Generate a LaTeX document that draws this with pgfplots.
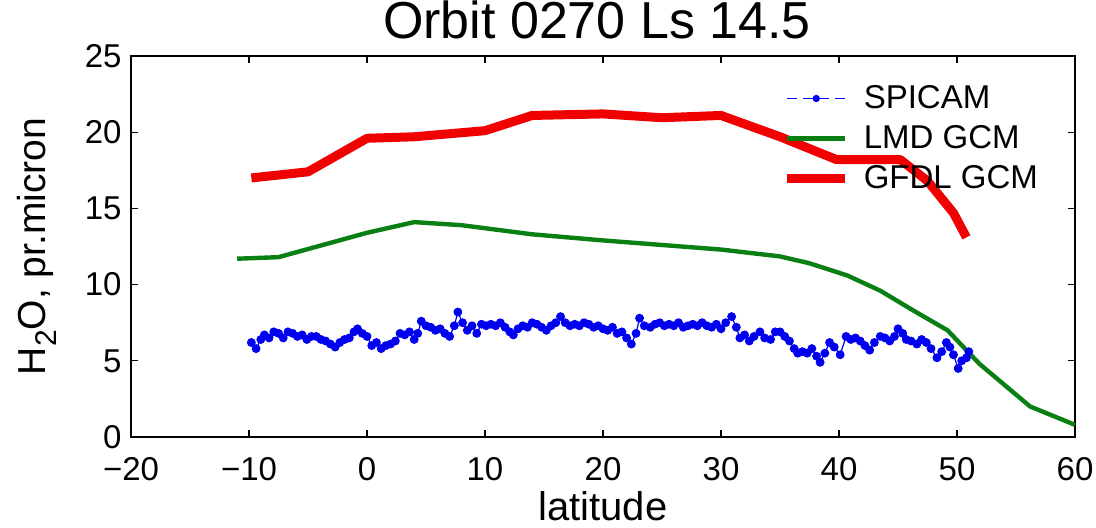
\documentclass[border=0pt]{standalone}
\usepackage{fontspec}
\setmainfont{Liberation Sans}
\usepackage{pgfplots}
\pgfplotsset{compat=1.18}
\definecolor{mgreen}{RGB}{10,128,20}
\definecolor{mred}{RGB}{240,0,0}
\definecolor{mblue}{RGB}{0,0,240}
\begin{document}
\begin{tikzpicture}
\useasboundingbox (-65.5pt,-45pt) rectangle (482.5pt,218.5pt);
\begin{axis}[
  scale only axis, width=472pt, height=190.5pt,
  xmin=-20, xmax=60, ymin=0, ymax=25,
  xtick={-20,-10,0,10,20,30,40,50,60},
  xticklabels={−20,−10,0,10,20,30,40,50,60},
  ytick={0,5,10,15,20,25},
  /pgf/number format/assume math mode=true,
  tick align=inside, major tick length=3.5pt,
  axis line style={line width=0.8pt},
  every tick/.style={black, line width=0.6pt},
  tick label style={font=\fontsize{16.5}{18}\selectfont},
  yticklabel style={anchor=east, inner sep=0pt, xshift=-4.5pt},
  xticklabel style={anchor=base, inner sep=0pt, yshift=-21.5pt},
  title={Orbit 0270 Ls 14.5},
  title style={font=\fontsize{26}{30}\selectfont, at={(axis description cs:0.5,1)}, anchor=base, yshift=3pt, xshift=-3pt, inner sep=0pt},
  xlabel={latitude},
  xlabel style={font=\fontsize{20}{24}\selectfont, at={(axis description cs:0.5,-0.218)}, anchor=base, inner sep=0pt},
  ylabel={H\raisebox{-0.3em}{\fontsize{15}{16}\selectfont 2}O, pr.micron},
  ylabel style={font=\fontsize{19.5}{24}\selectfont, at={(axis description cs:-0.0996,0.5)}, anchor=center, rotate=0},
  legend cell align=left,
  legend style={at={(rel axis cs:0.69,0.942)}, anchor=north west, draw=none, fill=none,
    inner sep=0pt, font=\fontsize{16.5}{18}\selectfont,
    nodes={text height=12pt, text depth=2pt, inner ysep=3pt, inner xsep=7pt}},
  legend image code/.code={\draw[#1] (0pt,0pt) -- (29pt,0pt);},
]
\addplot[mblue, line width=0.6pt, mark=*, mark size=1.9pt, mark options={solid, fill=mblue, draw=mblue},
  legend image code/.code={\draw[mblue, line width=0.5pt, dash pattern=on 5pt off 3pt] (0pt,0pt) -- (29pt,0pt); \fill[mblue] (14.5pt,0pt) circle (1.5pt);}]
coordinates {
(-9.8,6.2) (-9.4,5.8) (-9.0,6.4) (-8.7,6.7) (-8.3,6.5) (-7.9,6.9) (-7.5,6.8) (-7.1,6.5)
(-6.7,6.9) (-6.3,6.8) (-5.9,6.6) (-5.5,6.7) (-5.1,6.4) (-4.7,6.6) (-4.3,6.6) (-3.9,6.4)
(-3.5,6.3) (-3.1,6.1) (-2.7,5.9) (-2.3,6.2) (-1.9,6.4) (-1.5,6.5) (-1.1,6.9) (-0.8,7.1)
(-0.4,6.8) (0.0,6.6) (0.4,6.0) (0.8,6.2) (1.2,5.8) (1.6,6.0) (2.0,6.1) (2.4,6.3)
(2.8,6.8) (3.2,6.7) (3.6,6.9) (4.0,6.4) (4.3,6.8) (4.6,7.6) (5.0,7.3) (5.4,7.2)
(5.8,7.0) (6.2,7.1) (6.6,6.8) (7.0,6.6) (7.4,7.3) (7.7,8.2) (8.1,7.5) (8.5,7.0)
(8.9,7.3) (9.3,6.8) (9.7,7.4) (10.1,7.3) (10.5,7.4) (10.9,7.3) (11.3,7.5) (11.7,7.2)
(12.1,6.9) (12.4,6.7) (12.8,7.1) (13.2,7.3) (13.6,7.2) (14.0,7.5) (14.4,7.4) (14.8,7.2)
(15.2,7.0) (15.6,7.3) (16.0,7.5) (16.4,7.9) (16.8,7.5) (17.2,7.3) (17.6,7.4) (18.0,7.3)
(18.4,7.5) (18.8,7.4) (19.2,7.2) (19.6,7.3) (20.0,7.1) (20.4,7.0) (20.8,7.2) (21.2,6.8)
(21.6,6.9) (22.0,6.5) (22.4,6.1) (22.8,6.8) (23.1,7.8) (23.5,7.3) (24.0,7.2) (24.4,7.4)
(24.8,7.5) (25.2,7.3) (25.6,7.4) (26.0,7.3) (26.4,7.5) (26.8,7.2) (27.2,7.3) (27.6,7.4)
(28.0,7.3) (28.4,7.5) (28.8,7.3) (29.2,7.2) (29.6,7.4) (30.0,7.1) (30.4,7.5) (30.9,7.9)
(31.3,7.2) (31.6,6.5) (32.0,6.7) (32.4,6.3) (32.8,6.6) (33.3,6.9) (33.7,6.5) (34.2,6.4)
(34.6,6.9) (35.0,6.9) (35.4,6.6) (35.8,6.3) (36.2,5.8) (36.5,5.5) (36.9,5.6) (37.3,5.5)
(37.7,5.8) (38.1,5.3) (38.4,4.9) (38.8,5.5) (39.2,6.2) (39.6,5.9) (40.1,5.4) (40.6,6.6)
(41.0,6.4) (41.4,6.5) (41.8,6.3) (42.2,6.0) (42.6,5.7) (43.0,6.2) (43.5,6.6) (43.9,6.5)
(44.3,6.3) (44.7,6.6) (45.0,7.1) (45.4,6.8) (45.7,6.4) (46.1,6.3) (46.6,6.1) (47.0,6.4)
(47.4,6.2) (47.8,5.8) (48.3,5.2) (48.7,5.6) (49.1,6.2) (49.4,5.9) (49.7,5.4) (50.1,4.5)
(50.4,5.0) (50.8,5.2) (51.0,5.6)
};
\addlegendentry{SPICAM}
\addplot[mgreen, line width=2.2pt, line join=round, no marks]
coordinates {
(-11,11.7) (-7.5,11.8) (0,13.4) (4,14.1) (8,13.9) (14,13.3) (20,12.9) (25,12.6)
(30,12.3) (35,11.85) (37.5,11.4) (40.7,10.6) (43.5,9.6) (46.3,8.3) (49.2,7.0)
(51.9,4.8) (56.2,2.0) (60,0.8)
};
\addlegendentry{LMD GCM}
\addplot[mred, line width=4.5pt, line join=round, no marks]
coordinates {
(-9.8,17.0) (-5,17.4) (0,19.6) (4,19.7) (7,19.9) (10,20.1) (14,21.1) (20,21.2)
(25,20.95) (30,21.1) (35,19.7) (39.8,18.2) (45.2,18.2) (47.5,16.8) (49.7,14.7) (50.8,13.1)
};
\addlegendentry{GFDL GCM}
\end{axis}
\end{tikzpicture}
\end{document}
